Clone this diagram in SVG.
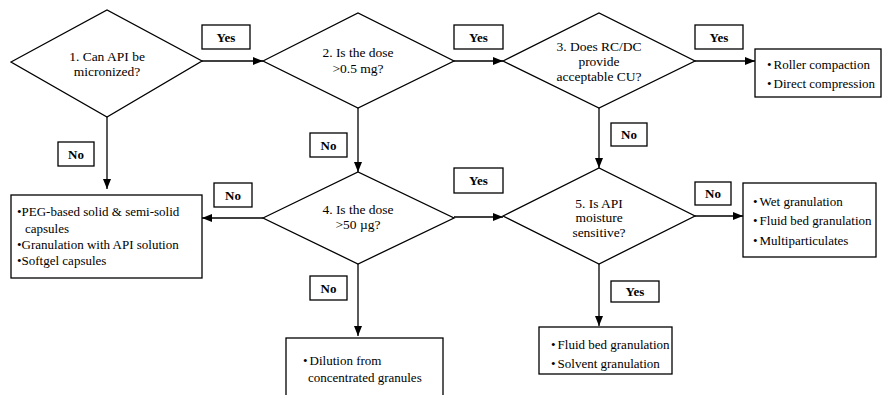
<svg xmlns="http://www.w3.org/2000/svg" width="882" height="395" viewBox="0 0 882 395">
  <style>
    .shape { fill: #fff; stroke: #000; stroke-width: 1.3; }
    .lbl { fill: #fff; stroke: #000; stroke-width: 1.3; }
    .edge { stroke: #000; stroke-width: 1.3; fill: none; marker-end: url(#arrow); }
  </style>
  <defs>
    <marker id="arrow" markerUnits="userSpaceOnUse" markerWidth="10" markerHeight="8" refX="10" refY="4" orient="auto">
      <path d="M0,0 L10,4 L0,8 z" fill="#000"/>
    </marker>
  </defs>

  <!-- connectors -->
  <g id="connectors">
    <line class="edge" x1="202" y1="61" x2="263" y2="61"/>
    <line class="edge" x1="454" y1="61" x2="503" y2="61"/>
    <line class="edge" x1="695" y1="61" x2="755" y2="61"/>
    <line class="edge" x1="107" y1="117" x2="107" y2="189"/>
    <line class="edge" x1="358" y1="108" x2="358" y2="172"/>
    <line class="edge" x1="599" y1="108" x2="599" y2="168"/>
    <line class="edge" x1="263" y1="218" x2="202" y2="218"/>
    <line class="edge" x1="454" y1="217" x2="503" y2="217"/>
    <line class="edge" x1="695" y1="216" x2="743" y2="216"/>
    <line class="edge" x1="358" y1="264" x2="358" y2="336"/>
    <line class="edge" x1="599" y1="264" x2="599" y2="326"/>
  </g>

  <!-- Yes/No tags on the connectors -->
  <g id="tags" font-family="Liberation Serif" font-size="13" font-weight="bold" text-anchor="middle">
    <g id="tag-1-yes"><rect class="lbl" x="202" y="25" width="48" height="24"/><text font-family="Liberation Serif" x="226" y="42">Yes</text></g>
    <g id="tag-2-yes"><rect class="lbl" x="454" y="25" width="49" height="24"/><text font-family="Liberation Serif" x="478.5" y="42">Yes</text></g>
    <g id="tag-3-yes"><rect class="lbl" x="695" y="25" width="48" height="24"/><text font-family="Liberation Serif" x="719" y="42">Yes</text></g>
    <g id="tag-1-no"><rect class="lbl" x="58" y="142" width="36" height="24"/><text font-family="Liberation Serif" x="76" y="158.5">No</text></g>
    <g id="tag-2-no"><rect class="lbl" x="310" y="133" width="37" height="24"/><text font-family="Liberation Serif" x="328.5" y="149.5">No</text></g>
    <g id="tag-3-no"><rect class="lbl" x="611" y="123" width="36" height="23"/><text font-family="Liberation Serif" x="629" y="139">No</text></g>
    <g id="tag-4-no-left"><rect class="lbl" x="214" y="183" width="38" height="24"/><text font-family="Liberation Serif" x="233" y="199.5">No</text></g>
    <g id="tag-4-yes"><rect class="lbl" x="454" y="168" width="49" height="25"/><text font-family="Liberation Serif" x="478.5" y="185">Yes</text></g>
    <g id="tag-5-no"><rect class="lbl" x="695" y="182" width="36" height="23"/><text font-family="Liberation Serif" x="713" y="198">No</text></g>
    <g id="tag-5-yes"><rect class="lbl" x="611" y="281" width="48" height="21"/><text font-family="Liberation Serif" x="635" y="296">Yes</text></g>
    <g id="tag-4-no-down"><rect class="lbl" x="310" y="276" width="37" height="24"/><text font-family="Liberation Serif" x="328.5" y="292.5">No</text></g>
  </g>

  <!-- decision nodes -->
  <g id="decisions" font-family="Liberation Serif" font-size="13.5" text-anchor="middle">
    <g id="q1">
      <polygon class="shape" points="11,62 107,10 202,61 107,117"/>
      <text font-family="Liberation Serif" x="107" y="61">1. Can API be</text>
      <text font-family="Liberation Serif" x="107" y="76">micronized?</text>
    </g>
    <g id="q2">
      <polygon class="shape" points="263,61 358,13 454,61 358,108"/>
      <text font-family="Liberation Serif" x="358" y="57">2. Is the dose</text>
      <text font-family="Liberation Serif" x="358" y="73">&gt;0.5 mg?</text>
    </g>
    <g id="q3">
      <polygon class="shape" points="503,61 599,13 695,61 599,108"/>
      <text font-family="Liberation Serif" x="599" y="51">3. Does RC/DC</text>
      <text font-family="Liberation Serif" x="599" y="66">provide</text>
      <text font-family="Liberation Serif" x="599" y="81">acceptable CU?</text>
    </g>
    <g id="q4">
      <polygon class="shape" points="263,218 358,172 454,218 358,264"/>
      <text font-family="Liberation Serif" x="358" y="214">4. Is the dose</text>
      <text font-family="Liberation Serif" x="358" y="229">&gt;50 µg?</text>
    </g>
    <g id="q5">
      <polygon class="shape" points="503,216 599,168 695,216 599,264"/>
      <text font-family="Liberation Serif" x="599" y="208">5. Is API</text>
      <text font-family="Liberation Serif" x="599" y="222">moisture</text>
      <text font-family="Liberation Serif" x="599" y="237">sensitive?</text>
    </g>
  </g>

  <!-- outcome boxes -->
  <g id="outcomes" font-family="Liberation Serif" font-size="13">
    <g id="out-rc-dc">
      <rect class="shape" x="755" y="49" width="126" height="48"/>
      <text font-family="Liberation Serif" x="767" y="69">•<tspan dx="2">Roller compaction</tspan></text>
      <text font-family="Liberation Serif" x="767" y="88">•<tspan dx="2">Direct compression</tspan></text>
    </g>
    <g id="out-low-dose">
      <rect class="shape" x="11" y="195" width="191" height="83"/>
      <text font-family="Liberation Serif" x="17" y="216">•PEG-based solid &amp; semi-solid</text>
      <text font-family="Liberation Serif" x="25" y="233">capsules</text>
      <text font-family="Liberation Serif" x="17" y="249">•Granulation with API solution</text>
      <text font-family="Liberation Serif" x="17" y="265">•Softgel capsules</text>
    </g>
    <g id="out-wet">
      <rect class="shape" x="743" y="183" width="133" height="74"/>
      <text font-family="Liberation Serif" x="753" y="206">•<tspan dx="2">Wet granulation</tspan></text>
      <text font-family="Liberation Serif" x="753" y="225">•<tspan dx="2">Fluid bed granulation</tspan></text>
      <text font-family="Liberation Serif" x="753" y="245">•<tspan dx="2">Multiparticulates</tspan></text>
    </g>
    <g id="out-solvent">
      <rect class="shape" x="539" y="327" width="133" height="47"/>
      <text font-family="Liberation Serif" x="551" y="349">•<tspan dx="2">Fluid bed granulation</tspan></text>
      <text font-family="Liberation Serif" x="551" y="368">•<tspan dx="2">Solvent granulation</tspan></text>
    </g>
    <g id="out-dilution">
      <rect class="shape" x="286" y="338" width="157" height="70"/>
      <text font-family="Liberation Serif" x="303" y="365">•<tspan dx="2">Dilution from</tspan></text>
      <text font-family="Liberation Serif" x="308" y="382">concentrated granules</text>
    </g>
  </g>
</svg>
